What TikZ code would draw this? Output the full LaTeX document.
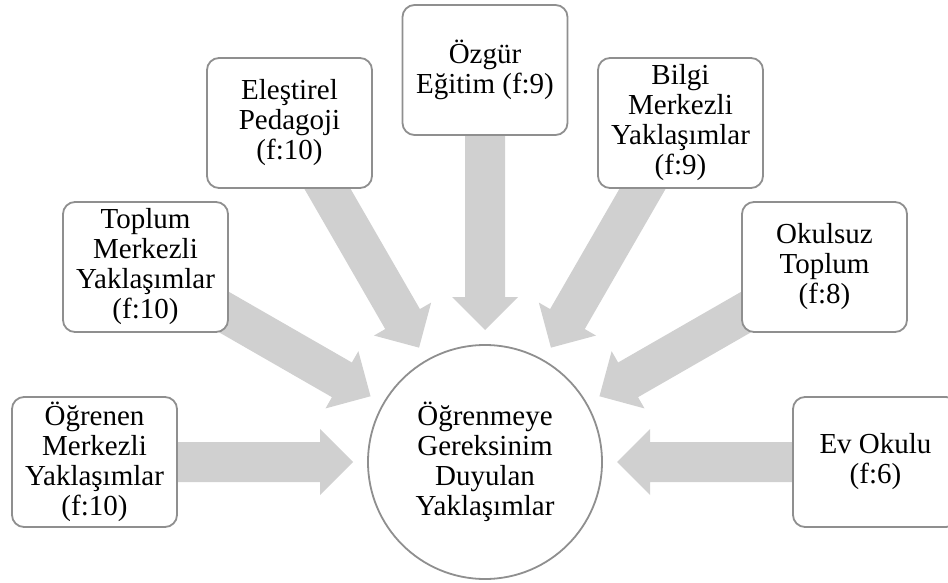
\documentclass[tikz,border=0pt]{standalone}
\usepackage{fontspec}
\setmainfont{Liberation Serif}
\usetikzlibrary{calc}
\pgfdeclarelayer{back}
\pgfsetlayers{back,main}
\definecolor{flowgray}{HTML}{D0D0D0}
\definecolor{edgegray}{HTML}{8F8F8F}

% block arrow from a source box towards the central circle
\newcommand\flowspoke[1]{%
  \path ($(hub.center)!165pt!(#1.center)$) coordinate (hb)
        ($(hub.center)!132pt!(#1.center)$) coordinate (tp);
  \fill[flowgray] (tp)
    -- ($(hb)!33pt!90:(hub.center)$)
    -- ($(hb)!20pt!90:(hub.center)$)
    -- ($(#1.center)!20pt!90:(hub.center)$)
    -- ($(#1.center)!20pt!-90:(hub.center)$)
    -- ($(hb)!20pt!-90:(hub.center)$)
    -- ($(hb)!33pt!-90:(hub.center)$)
    -- cycle;
}

\begin{document}
\begin{tikzpicture}[x=1pt,y=-1pt,
  labelfont/.style={font=\fontsize{29}{30}\selectfont},
  item/.style={labelfont, draw=edgegray, line width=1.8pt, fill=white,
    rounded corners=12pt, minimum width=165pt, minimum height=130pt,
    inner sep=0pt, align=center},
  hubnode/.style={labelfont, circle, draw=edgegray, line width=1.8pt,
    fill=white, minimum size=234pt, inner sep=0pt, align=center}]
  \clip (0,0) rectangle (948,583);

  \node[hubnode] (hub) at (485,462)
    {Öğrenmeye\\Gereksinim\\Duyulan\\Yaklaşımlar};

  \node[item] (ogrenen)   at (94.5,462)  {Öğrenen\\Merkezli\\Yaklaşımlar\\(f:10)};
  \node[item] (toplum)    at (145.5,267) {Toplum\\Merkezli\\Yaklaşımlar\\(f:10)};
  \node[item] (elestirel) at (289.5,123) {Eleştirel\\Pedagoji\\(f:10)};
  \node[item] (ozgur)     at (485,70)    {Özgür\\Eğitim (f:9)};
  \node[item] (bilgi)     at (680.5,123) {Bilgi\\Merkezli\\Yaklaşımlar\\(f:9)};
  \node[item] (okulsuz)   at (824.5,267) {Okulsuz\\Toplum\\(f:8)};
  \node[item] (evokulu)   at (875.5,462) {Ev Okulu\\(f:6)};

  \begin{pgfonlayer}{back}
    \flowspoke{ogrenen}
    \flowspoke{toplum}
    \flowspoke{elestirel}
    \flowspoke{ozgur}
    \flowspoke{bilgi}
    \flowspoke{okulsuz}
    \flowspoke{evokulu}
  \end{pgfonlayer}
\end{tikzpicture}
\end{document}
